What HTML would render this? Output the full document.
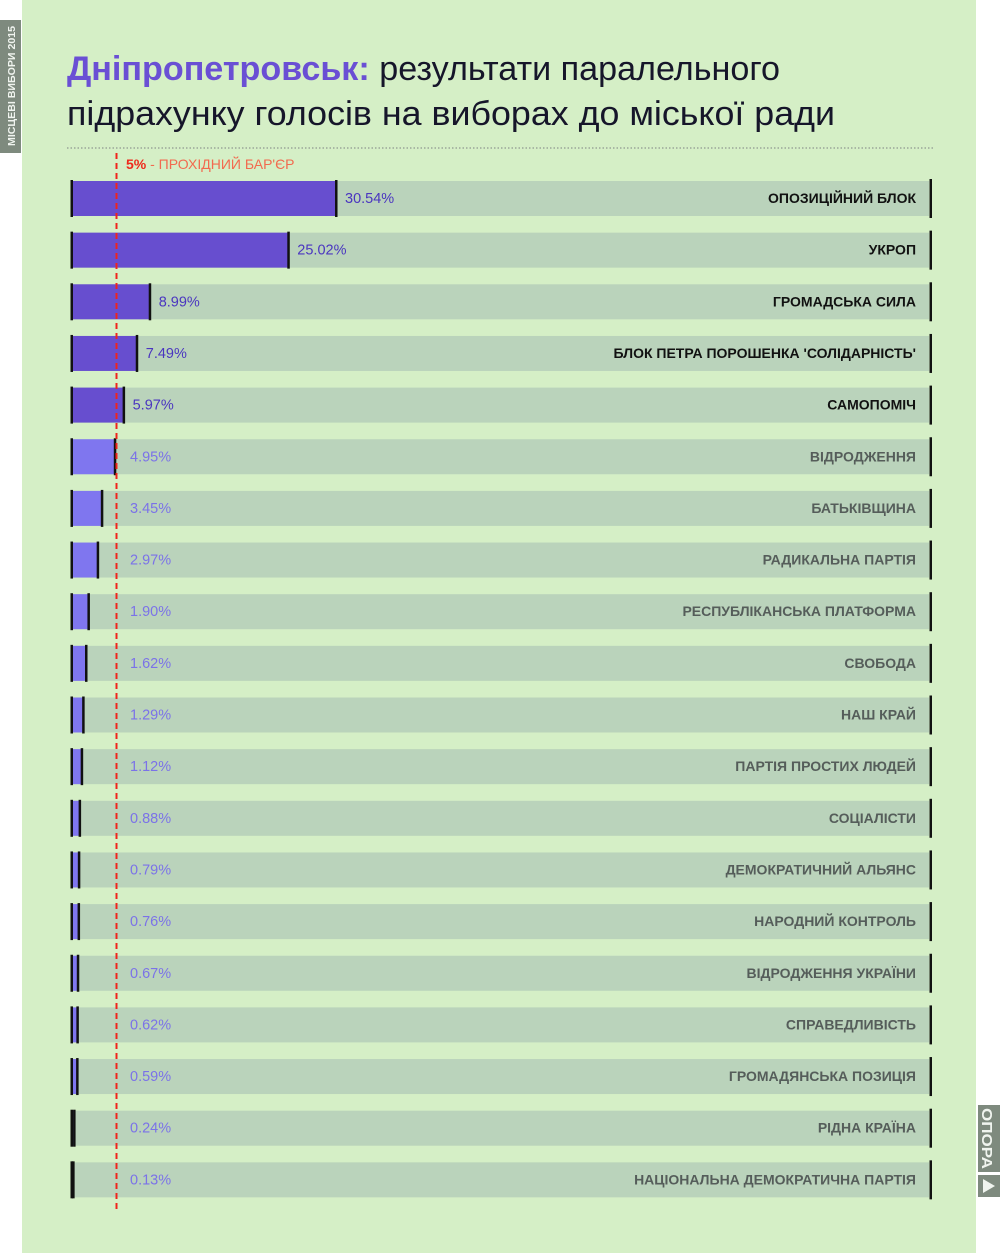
<!DOCTYPE html>
<html><head><meta charset="utf-8"><style>
html,body{margin:0;padding:0;background:#fff;}
svg{display:block;font-family:"Liberation Sans",sans-serif;}
</style></head><body>
<svg width="1000" height="1253" viewBox="0 0 1000 1253" xmlns="http://www.w3.org/2000/svg">
<rect x="22" y="0" width="954" height="1253" fill="#d5efc6"/>
<rect x="0" y="20" width="21" height="133" fill="#7e8a7e"/>
<text transform="translate(15,146) rotate(-90)" font-size="10" font-weight="bold" fill="#f0f4ef" textLength="120" lengthAdjust="spacingAndGlyphs">МІСЦЕВІ ВИБОРИ 2015</text>
<rect x="978" y="1105" width="22" height="67" fill="#7e8a7e"/>
<text transform="translate(982,1108) rotate(90)" font-size="15" font-weight="bold" fill="#f0f4ef" textLength="61" lengthAdjust="spacingAndGlyphs">ОПОРА</text>
<rect x="978" y="1175" width="22" height="22" fill="#7e8a7e"/>
<polygon points="983,1179 983,1193 995,1186" fill="#f0f4ef"/>
<text x="67" y="80" font-size="34" fill="#16162a" textLength="713" lengthAdjust="spacingAndGlyphs"><tspan font-weight="bold" fill="#6a4fd4">Дніпропетровськ:</tspan> результати паралельного</text>
<text x="67" y="125" font-size="34" fill="#16162a" textLength="768" lengthAdjust="spacingAndGlyphs">підрахунку голосів на виборах до міської ради</text>
<line x1="67" y1="148" x2="934" y2="148" stroke="#a9b8a4" stroke-width="2" stroke-dasharray="1.5 2"/>
<text x="126" y="169" font-size="14" fill="#f26a4f"><tspan font-weight="bold" fill="#ee2a1c">5%</tspan> - ПРОХІДНИЙ БАР'ЄР</text>
<g id="rows"></g>
<line x1="116.5" y1="153" x2="116.5" y2="1212" stroke="#f0241c" stroke-width="2" stroke-dasharray="6 4"/>
</svg>
<script>
var d=[["ОПОЗИЦІЙНИЙ БЛОК",30.54],["УКРОП",25.02],["ГРОМАДСЬКА СИЛА",8.99],["БЛОК ПЕТРА ПОРОШЕНКА 'СОЛІДАРНІСТЬ'",7.49],["САМОПОМІЧ",5.97],["ВІДРОДЖЕННЯ",4.95],["БАТЬКІВЩИНА",3.45],["РАДИКАЛЬНА ПАРТІЯ",2.97],["РЕСПУБЛІКАНСЬКА ПЛАТФОРМА",1.90],["СВОБОДА",1.62],["НАШ КРАЙ",1.29],["ПАРТІЯ ПРОСТИХ ЛЮДЕЙ",1.12],["СОЦІАЛІСТИ",0.88],["ДЕМОКРАТИЧНИЙ АЛЬЯНС",0.79],["НАРОДНИЙ КОНТРОЛЬ",0.76],["ВІДРОДЖЕННЯ УКРАЇНИ",0.67],["СПРАВЕДЛИВІСТЬ",0.62],["ГРОМАДЯНСЬКА ПОЗИЦІЯ",0.59],["РІДНА КРАЇНА",0.24],["НАЦІОНАЛЬНА ДЕМОКРАТИЧНА ПАРТІЯ",0.13]];
var s="";
d.forEach(function(r,i){
 var y=181+i*51.65, w=r[1]*8.645, dark=r[1]>=5, end=72+w;
 s+='<rect x="72" y="'+y+'" width="857" height="35" fill="#bad3bb"/>';
 s+='<rect x="72" y="'+y+'" width="'+w+'" height="35" fill="'+(dark?'#674ecf':'#7f76ef')+'"/>';
 s+='<rect x="70.5" y="'+(y-1)+'" width="2.5" height="37" fill="#111"/>';
 s+='<rect x="'+(end-1)+'" y="'+(y-1)+'" width="2.5" height="37" fill="#111"/>';
 s+='<rect x="929.5" y="'+(y-2)+'" width="2.5" height="39" fill="#111"/>';
 var tx=dark?end+9:130;
 s+='<text x="'+tx+'" y="'+(y+22)+'" font-size="14.5" fill="'+(dark?'#4a35c0':'#7b72e8')+'">'+r[1].toFixed(2)+'%</text>';
 s+='<text x="916" y="'+(y+22)+'" font-size="14" font-weight="bold" text-anchor="end" fill="'+(dark?'#111':'#555d5a')+'">'+r[0]+'</text>';
});
document.getElementById("rows").innerHTML=s;
</script>
</body></html>
